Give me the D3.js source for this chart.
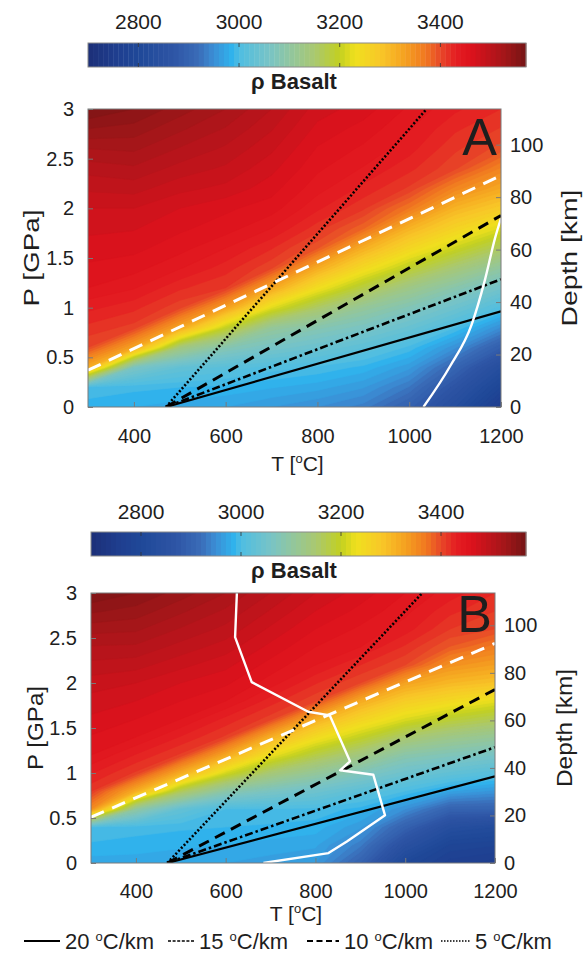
<!DOCTYPE html>
<html><head><meta charset="utf-8">
<script src="https://cdn.jsdelivr.net/npm/d3@7"></script>
<style>
body{margin:0;background:#fff}
svg{display:block}
text{font-family:"Liberation Sans",Arial,Helvetica,sans-serif;fill:#1e1e1e}
</style>
</head><body>
<svg id="chart" width="584" height="957"></svg>
<script>
// ---------------- DATA ----------------
const temps = [300, 400, 500, 600, 700, 800, 900, 1000, 1100, 1200];            // °C
const pressures = [0, 0.2, 0.4, 0.6, 0.8, 1.0, 1.2, 1.4, 1.6, 1.8, 2.0, 2.2, 2.4, 2.6, 2.8, 3.0]; // GPa

// Basalt density (kg/m3); one array per temperature, values along pressure
const rhoA = [
  [2985, 2997, 3313, 3400, 3417, 3433, 3450, 3458, 3465, 3473, 3480, 3492, 3504, 3520, 3540, 3560],
  [2980, 2993, 3064, 3323, 3406, 3423, 3441, 3454, 3463, 3471, 3480, 3494, 3508, 3522, 3536, 3550],
  [2975, 2990, 3029, 3135, 3323, 3403, 3422, 3441, 3454, 3462, 3470, 3483, 3496, 3509, 3522, 3535],
  [2970, 2987, 3017, 3083, 3198, 3329, 3410, 3425, 3440, 3455, 3462, 3477, 3488, 3498, 3509, 3520],
  [2960, 2981, 3005, 3058, 3108, 3220, 3322, 3402, 3421, 3440, 3455, 3464, 3473, 3482, 3491, 3500],
  [2950, 2974, 2998, 3040, 3084, 3155, 3238, 3315, 3392, 3415, 3432, 3444, 3452, 3459, 3467, 3475],
  [2935, 2961, 2987, 3021, 3063, 3107, 3177, 3246, 3311, 3382, 3412, 3427, 3439, 3448, 3456, 3465],
  [2895, 2929, 2963, 2997, 3036, 3076, 3126, 3191, 3252, 3306, 3369, 3408, 3423, 3434, 3441, 3448],
  [2830, 2863, 2904, 2952, 3000, 3043, 3087, 3143, 3205, 3258, 3305, 3356, 3402, 3412, 3422, 3432],
  [2750, 2790, 2830, 2890, 2949, 3005, 3052, 3100, 3159, 3218, 3273, 3319, 3358, 3396, 3409, 3420]
];
const rhoB = [
  [2975, 2988, 3000, 3350, 3412, 3431, 3450, 3459, 3468, 3476, 3485, 3497, 3509, 3524, 3542, 3560],
  [2975, 2985, 2995, 3100, 3314, 3408, 3429, 3450, 3460, 3470, 3480, 3494, 3508, 3522, 3536, 3550],
  [2972, 2982, 2992, 3029, 3165, 3314, 3408, 3429, 3450, 3460, 3470, 3483, 3496, 3509, 3522, 3535],
  [2970, 2980, 2990, 3000, 3091, 3211, 3320, 3408, 3427, 3450, 3462, 3473, 3485, 3497, 3508, 3520],
  [2965, 2976, 2988, 2999, 3064, 3143, 3230, 3312, 3405, 3425, 3445, 3456, 3467, 3478, 3489, 3500],
  [2960, 2972, 2985, 2997, 3045, 3107, 3175, 3243, 3314, 3402, 3421, 3440, 3450, 3460, 3470, 3480],
  [2900, 2933, 2962, 2986, 3021, 3074, 3133, 3198, 3257, 3317, 3400, 3420, 3440, 3448, 3457, 3465],
  [2800, 2847, 2897, 2950, 3000, 3044, 3089, 3150, 3217, 3269, 3326, 3400, 3418, 3435, 3443, 3450],
  [2765, 2788, 2833, 2900, 2971, 3027, 3073, 3125, 3187, 3246, 3300, 3344, 3389, 3410, 3423, 3435],
  [2755, 2781, 2820, 2900, 2957, 3012, 3060, 3109, 3166, 3224, 3287, 3329, 3364, 3400, 3410, 3420]
];

// colour map (density -> colour)
const cmapDensity = [2700, 2760, 2800, 2870, 2920, 2950, 2985, 3000, 3060, 3100, 3150, 3200, 3230, 3280, 3330, 3370, 3400, 3430, 3460, 3500, 3530, 3570];
const cmapColors  = ["#1c2f78", "#1f3f90", "#1f4898", "#2e55a5", "#3a6cb8", "#3b8fd6", "#30b2ec", "#4fbde2", "#78c4c6", "#90c6a0", "#aac870", "#c2d020", "#efe01e", "#f8c828", "#f5a020", "#f07820", "#e84828", "#e41e22", "#dd121c", "#bb141b", "#a01618", "#741414"];
const cbDomain = [2700, 3570];
const cbTicks = [2800, 3000, 3200, 3400];

const tTicks = [400, 600, 800, 1000, 1200];
const pTicks = [0, 0.5, 1, 1.5, 2, 2.5, 3];
const pTickLabels = ["0", "0.5", "1", "1.5", "2", "2.5", "3"];
const depthTicks = [0, 20, 40, 60, 80, 100];
const depthMax = 113.6;

// geotherms (T in °C, depth in km)
const geoNames = ["20", "15", "10", "5"];
const geoT0 = [470, 470, 470, 470];
const geoT1 = [1200, 1200, 1200, 1038];
const geoD1 = [36.5, 48.7, 73.0, 113.6];

// white dashed line (P in GPa)
const whiteDashA_T = [300, 1200], whiteDashA_P = [0.37, 2.33];
const whiteDashB_T = [300, 1200], whiteDashB_P = [0.51, 2.44];
// white solid curves
const whiteA_T = [1031, 1089, 1136, 1165, 1187, 1200];
const whiteA_P = [0, 0.41, 0.83, 1.28, 1.70, 1.90];
const whiteB_T = [625, 621, 658, 784, 832, 877, 855, 929, 955, 870, 829, 684];
const whiteB_P = [3.0, 2.51, 2.01, 1.68, 1.64, 1.13, 1.03, 0.98, 0.53, 0.24, 0.11, 0];

// ---------------- LAYOUT ----------------
const panels = [
  {label: "A", rho: rhoA, wdT: whiteDashA_T, wdP: whiteDashA_P, wT: whiteA_T, wP: whiteA_P, curved: true,
   plot: {x0: 88, x1: 501, y0: 109, y1: 407}, cb: {x0: 88, x1: 526, y0: 43, y1: 67, labY: 29, titleY: 89},
   xTickY: 443, xTitleY: 471, pTitleX: 31, pTitleLen: 97, dTitleX: 569, dTitleLen: 137, lblX: 497, lblY: 155},
  {label: "B", rho: rhoB, wdT: whiteDashB_T, wdP: whiteDashB_P, wT: whiteB_T, wP: whiteB_P, curved: false,
   plot: {x0: 91, x1: 495, y0: 593, y1: 863}, cb: {x0: 91, x1: 526, y0: 532, y1: 556, labY: 519, titleY: 578},
   xTickY: 898, xTitleY: 921, pTitleX: 35, pTitleLen: 84, dTitleX: 564, dTitleLen: 118, lblX: 492, lblY: 632}
];

const svg = d3.select("#chart");
const cmap = d3.scaleLinear().domain(cmapDensity).range(cmapColors).interpolate(d3.interpolateRgb).clamp(true);
const colorOf = v => cmap(Math.floor(v / 10) * 10 + 5);
const gridStroke = "#7a7a7a";

function supText(sel, before, after, size) {
  sel.append("tspan").text(before);
  sel.append("tspan").attr("font-size", size).attr("dy", -size * 0.6).text("o");
  sel.append("tspan").attr("dy", size * 0.6).text(after);
}

const geoStyles = [
  {dash: null, w: 2.2},
  {dash: "8,3,2.5,3", w: 2.6},
  {dash: "11,7", w: 3},
  {dash: "2,2", w: 2.6}
];

panels.forEach((pn, k) => {
  const g = svg.append("g");
  const P = pn.plot;
  const x = d3.scaleLinear().domain([300, 1200]).range([P.x0, P.x1]);
  const y = d3.scaleLinear().domain([0, 3]).range([P.y1, P.y0]);
  const yd = d3.scaleLinear().domain([0, depthMax]).range([P.y1, P.y0]);

  // ---- colour bar ----
  const cbx = d3.scaleLinear().domain(cbDomain).range([pn.cb.x0, pn.cb.x1]);
  const steps = d3.range(cbDomain[0], cbDomain[1], 10);
  g.append("g").selectAll("rect").data(steps).join("rect")
    .attr("x", d => cbx(d)).attr("y", pn.cb.y0)
    .attr("width", d => cbx(Math.min(d + 10, cbDomain[1])) - cbx(d) + 0.4)
    .attr("height", pn.cb.y1 - pn.cb.y0)
    .attr("fill", d => colorOf(d + 5));
  g.append("rect").attr("x", pn.cb.x0).attr("y", pn.cb.y0)
    .attr("width", pn.cb.x1 - pn.cb.x0).attr("height", pn.cb.y1 - pn.cb.y0)
    .attr("fill", "none").attr("stroke", "#8a8a8a").attr("stroke-width", 1);
  cbTicks.forEach(t => {
    g.append("line").attr("x1", cbx(t)).attr("x2", cbx(t)).attr("y1", pn.cb.y0).attr("y2", pn.cb.y0 + 4).attr("stroke", "#333").attr("stroke-width", 0.8);
    g.append("line").attr("x1", cbx(t)).attr("x2", cbx(t)).attr("y1", pn.cb.y1).attr("y2", pn.cb.y1 - 4).attr("stroke", "#333").attr("stroke-width", 0.8);
  });
  g.append("g").selectAll("text").data(cbTicks).join("text")
    .attr("x", d => cbx(d)).attr("y", pn.cb.labY).attr("text-anchor", "middle")
    .attr("font-size", 21).text(d => d);
  g.append("text").attr("x", 294).attr("y", pn.cb.titleY).attr("text-anchor", "middle")
    .attr("font-size", 22).attr("font-weight", "bold").text("ρ Basalt");

  // ---- heat map via contours ----
  const nT = temps.length, nP = pressures.length;
  const values = new Array(nT * nP);
  for (let j = 0; j < nP; j++) for (let i = 0; i < nT; i++) values[j * nT + i] = pn.rho[i][j];
  const gx = d3.scaleLinear().domain([0.5, nT - 0.5]).range([temps[0], temps[nT - 1]]);
  const gy = d3.scaleLinear().domain([0.5, nP - 0.5]).range([pressures[0], pressures[nP - 1]]);
  const proj = d3.geoTransform({point(px, py) { this.stream.point(x(gx(px)), y(gy(py))); }});
  const path = d3.geoPath(proj);
  const contours = d3.contours().size([nT, nP]).thresholds(d3.range(2700, 3580, 10))(values);

  const clipId = "clip" + k;
  g.append("clipPath").attr("id", clipId).append("rect")
    .attr("x", P.x0).attr("y", P.y0).attr("width", P.x1 - P.x0).attr("height", P.y1 - P.y0);
  const plotG = g.append("g").attr("clip-path", `url(#${clipId})`);
  plotG.append("rect").attr("x", P.x0).attr("y", P.y0).attr("width", P.x1 - P.x0).attr("height", P.y1 - P.y0)
    .attr("fill", colorOf(2705));
  plotG.append("g").selectAll("path").data(contours).join("path")
    .attr("d", path).attr("fill", d => colorOf(d.value + 5))
    .attr("stroke", d => colorOf(d.value + 5)).attr("stroke-width", 0.6);

  // ---- geotherms ----
  geoNames.forEach((nm, i) => {
    const st = geoStyles[i];
    plotG.append("line")
      .attr("x1", x(geoT0[i])).attr("y1", yd(0)).attr("x2", x(geoT1[i])).attr("y2", yd(geoD1[i]))
      .attr("stroke", "#000").attr("stroke-width", st.w)
      .attr("stroke-dasharray", st.dash);
  });

  // ---- white dashed boundary ----
  const lineTP = d3.line().x(d => x(d[0])).y(d => y(d[1]));
  plotG.append("path").datum(d3.zip(pn.wdT, pn.wdP)).attr("d", lineTP)
    .attr("fill", "none").attr("stroke", "#fff").attr("stroke-width", 3).attr("stroke-dasharray", "14,9");

  // ---- white solid curve ----
  const lineW = pn.curved ? d3.line().x(d => x(d[0])).y(d => y(d[1])).curve(d3.curveMonotoneX) : lineTP;
  plotG.append("path").datum(d3.zip(pn.wT, pn.wP)).attr("d", lineW)
    .attr("fill", "none").attr("stroke", "#fff").attr("stroke-width", 2.4).attr("stroke-linejoin", "round");

  // ---- panel label ----
  g.append("text").attr("x", pn.lblX).attr("y", pn.lblY).attr("text-anchor", "end")
    .attr("font-size", 52).attr("fill", "#000").text(pn.label);

  // ---- axes ----
  const ax = g.append("g").attr("transform", `translate(0,${P.y1})`)
    .call(d3.axisBottom(x).tickValues(tTicks).tickSizeInner(-5).tickSizeOuter(0).tickFormat(d3.format("d")));
  ax.select(".domain").remove();
  ax.selectAll("line").attr("stroke", gridStroke);
  ax.selectAll("text").attr("y", pn.xTickY - P.y1).attr("dy", null).attr("font-size", 20).attr("fill", "#1e1e1e");

  const ay = g.append("g").attr("transform", `translate(${P.x0},0)`)
    .call(d3.axisLeft(y).tickValues(pTicks).tickSizeInner(-5).tickSizeOuter(0).tickFormat((d, i) => pTickLabels[i]));
  ay.select(".domain").remove();
  ay.selectAll("line").attr("stroke", gridStroke);
  ay.selectAll("text").attr("x", -14).attr("font-size", 20).attr("fill", "#1e1e1e");

  const ar = g.append("g").attr("transform", `translate(${P.x1},0)`)
    .call(d3.axisRight(yd).tickValues(depthTicks).tickSizeInner(-5).tickSizeOuter(0));
  ar.select(".domain").remove();
  ar.selectAll("line").attr("stroke", gridStroke);
  ar.selectAll("text").attr("x", 9).attr("font-size", 20).attr("fill", "#1e1e1e");

  g.append("rect").attr("x", P.x0).attr("y", P.y0).attr("width", P.x1 - P.x0).attr("height", P.y1 - P.y0)
    .attr("fill", "none").attr("stroke", gridStroke).attr("stroke-width", 1);

  // axis titles
  const xt = g.append("text").attr("x", (P.x0 + P.x1) / 2 + 3).attr("y", pn.xTitleY)
    .attr("text-anchor", "middle").attr("font-size", 21);
  supText(xt, "T [", "C]", 13);

  g.append("text").attr("transform", `translate(${pn.pTitleX},${(P.y0 + P.y1) / 2}) rotate(-90)`)
    .attr("text-anchor", "middle").attr("dy", "0.35em").attr("font-size", 22)
    .attr("textLength", pn.pTitleLen).attr("lengthAdjust", "spacingAndGlyphs").text("P [GPa]");
  g.append("text").attr("transform", `translate(${pn.dTitleX},${(P.y0 + P.y1) / 2}) rotate(-90)`)
    .attr("text-anchor", "middle").attr("dy", "0.35em").attr("font-size", 22)
    .attr("textLength", pn.dTitleLen).attr("lengthAdjust", "spacingAndGlyphs").text("Depth [km]");
});

// ---------------- LEGEND ----------------
const legendY = 941;
const legendItems = [
  {x0: 24, x1: 60, tx: 65, dash: null, w: 2.2},
  {x0: 168, x1: 194, tx: 199, dash: "3,1.6", w: 1.6},
  {x0: 307, x1: 339, tx: 344, dash: "6,3.5", w: 2},
  {x0: 441, x1: 471, tx: 475, dash: "1.5,1.5", w: 1.6}
];
const lg = svg.append("g");
legendItems.forEach((it, i) => {
  lg.append("line").attr("x1", it.x0).attr("x2", it.x1).attr("y1", legendY).attr("y2", legendY)
    .attr("stroke", "#000").attr("stroke-width", it.w).attr("stroke-dasharray", it.dash);
  const t = lg.append("text").attr("x", it.tx).attr("y", legendY + 8).attr("font-size", 22);
  supText(t, geoNames[i] + " ", "C/km", 13);
});
</script>
</body></html>
